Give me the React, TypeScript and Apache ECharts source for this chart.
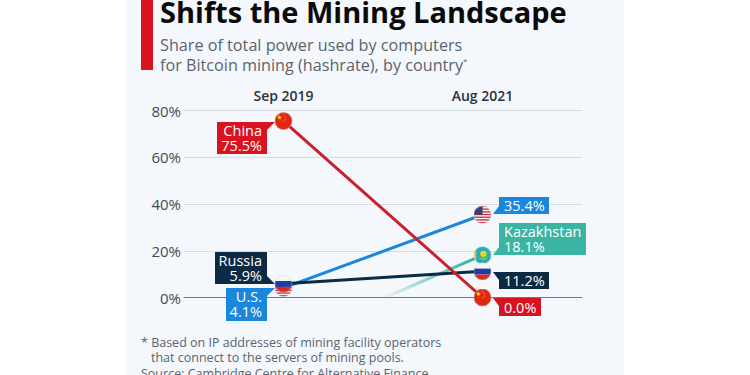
import React, { useEffect, useRef } from "react";
import * as echarts from "echarts";

const periods = ["Sep 2019", "Aug 2021"];
const chinaValues = [75.5, 0.0];
const usValues = [4.1, 35.4];
const russiaValues = [5.9, 11.2];
const kazakhstanFadeStart = [0.51, 0];
const kazakhstanEnd = [1, 18.1];
const yTicks = { min: 0, max: 80, interval: 20 };

const FONT = '"Open Sans", sans-serif';
const RED = "#d8121f";
const BLUE = "#1a86dc";
const NAVY = "#0d2a45";
const TEAL = "#3bb4a4";

const wrap = (inner: string) =>
  "image://data:image/svg+xml," +
  encodeURIComponent(
    `<svg xmlns="http://www.w3.org/2000/svg" width="40" height="40" viewBox="0 0 40 40"><defs><clipPath id="c"><circle cx="20" cy="20" r="19.5"/></clipPath></defs><g clip-path="url(#c)">${inner}</g><circle cx="20" cy="20" r="19" fill="none" stroke="#cfd4da" stroke-width="1"/></svg>`
  );

const star = (x: number, y: number, r: number) => {
  const pts: string[] = [];
  for (let i = 0; i < 10; i++) {
    const a = -Math.PI / 2 + (i * Math.PI) / 5;
    const rr = i % 2 ? r * 0.4 : r;
    pts.push(`${x + rr * Math.cos(a)},${y + rr * Math.sin(a)}`);
  }
  return `<polygon points="${pts.join(" ")}" fill="#ffde00"/>`;
};

const chinaFlag = wrap(
  `<rect width="40" height="40" fill="#de2910"/>${star(11, 12, 6)}${star(20, 6, 2)}${star(24, 11, 2)}${star(24, 17, 2)}${star(20, 21, 2)}`
);
const russiaFlag = wrap(
  `<rect width="40" height="14" fill="#f6f6f6"/><rect y="14" width="40" height="13" fill="#1f3fa8"/><rect y="27" width="40" height="13" fill="#d62b2b"/>`
);
const stripes = Array.from({ length: 7 })
  .map((_, i) => `<rect y="${i * 6}" width="40" height="3" fill="#c8333f"/>`)
  .join("");
const usFlag = wrap(
  `<rect width="40" height="40" fill="#f4f4f4"/>${stripes}<rect width="20" height="20" fill="#3c3b6e"/>`
);
const kazakhstanFlag = wrap(
  `<rect width="40" height="40" fill="#1fb0bf"/><rect x="1" width="5" height="40" fill="#e6c62b"/><circle cx="22" cy="17" r="7" fill="#f2d21f"/><path d="M11 25 Q22 34 33 25 Q22 30 11 25Z" fill="#f2d21f"/>`
);

type Callout = {
  lines: string[];
  x: number;
  y: number;
  color: string;
  side: "l" | "r";
  corner: "top" | "bottom";
  anchor: [number, number];
  dx: number;
  dy: number;
  w: number;
  h: number;
};

const callouts: Callout[] = [
  { lines: ["China", "75.5%"], x: 0, y: 75.5, color: RED, side: "l", corner: "top", anchor: [0, chinaValues[0]], dx: -67, dy: 0.5, w: 50, h: 32 },
  { lines: ["Russia", "5.9%"], x: 0, y: 5.9, color: NAVY, side: "l", corner: "bottom", anchor: [0, russiaValues[0]], dx: -69, dy: -32, w: 52, h: 32 },
  { lines: ["U.S.", "4.1%"], x: 0, y: 4.1, color: BLUE, side: "l", corner: "top", anchor: [0, usValues[0]], dx: -58, dy: 0, w: 41, h: 33 },
  { lines: ["35.4%"], x: 1, y: 35.4, color: BLUE, side: "r", corner: "bottom", anchor: [1, usValues[1]], dx: 16.5, dy: -17.5, w: 50, h: 17 },
  { lines: ["Kazakhstan", "18.1%"], x: 1, y: 18.1, color: TEAL, side: "r", corner: "bottom", anchor: [1, kazakhstanEnd[1]], dx: 16.5, dy: -32, w: 87, h: 32 },
  { lines: ["11.2%"], x: 1, y: 11.2, color: NAVY, side: "r", corner: "top", anchor: [1, russiaValues[1]], dx: 16.5, dy: 1, w: 50, h: 17 },
  { lines: ["0.0%"], x: 1, y: 0, color: RED, side: "r", corner: "top", anchor: [1, chinaValues[1]], dx: 16.5, dy: 0, w: 42, h: 18 },
];

const renderCallout = (params: any, api: any) => {
  const c = callouts[params.dataIndex];
  const p = api.coord(c.anchor);
  const x = Math.round(p[0] + c.dx);
  const y = Math.round(p[1] + c.dy);
  const edge = c.side === "l" ? x + c.w : x;
  const tip = c.side === "l" ? edge + 8 : edge - 6;
  const cy = c.corner === "top" ? y : y + c.h;
  const inner = c.corner === "top" ? cy + 8 : cy - 8;
  const children: any[] = [
    { type: "rect", shape: { x, y, width: c.w, height: c.h }, style: { fill: c.color } },
    { type: "polygon", shape: { points: [[edge, cy], [tip, cy], [edge, inner]] }, style: { fill: c.color } },
  ];
  const single = c.lines.length === 1;
  c.lines.forEach((t, i) => {
    children.push({
      type: "text",
      style: {
        text: t,
        x: c.side === "l" ? x + c.w - 5 : x + 5,
        y: single ? y + c.h / 2 : y + 8 + i * 15,
        fill: "#ffffff",
        font: `${i === c.lines.length - 1 ? 500 : 400} 14.5px ${FONT}`,
        align: c.side === "l" ? "right" : "left",
        verticalAlign: "middle",
      },
    });
  });
  return { type: "group", children };
};

const text = (t: string, x: number, y: number, font: string, fill: string) => ({
  type: "text",
  z: 10,
  style: { text: t, x, y, font, fill, align: "left", verticalAlign: "middle" },
});

export default function App() {
  const ref = useRef<HTMLDivElement>(null);
  useEffect(() => {
    const chart = echarts.init(ref.current!, undefined, { renderer: "svg" });
    const lineBase = { type: "line" as const, symbolSize: 18, showSymbol: true, silent: true };
    chart.setOption({
      animation: false,
      backgroundColor: "#ffffff",
      grid: { left: 184, top: 110.5, width: 398, height: 187 },
      xAxis: [
        {
          type: "category",
          data: periods,
          position: "top",
          boundaryGap: true,
          axisLine: { show: false },
          axisTick: { show: false },
          axisLabel: { margin: 8, fontFamily: FONT, fontSize: 14, fontWeight: 600, color: "#2d333a" },
        },
        {
          type: "value",
          min: -0.5,
          max: 1.5,
          position: "bottom",
          axisLine: { show: true, onZero: false, lineStyle: { color: "#70787f", width: 1 } },
          axisTick: { show: false },
          axisLabel: { show: false },
          splitLine: { show: false },
        },
      ],
      yAxis: {
        type: "value",
        ...yTicks,
        axisLine: { show: false },
        axisTick: { show: false },
        axisLabel: { margin: 3, formatter: "{value}%", fontFamily: FONT, fontSize: 15, color: "#444b52" },
        splitLine: { lineStyle: { color: "#d6dbe1", width: 1 } },
      },
      graphic: [
        { type: "rect", z: -10, shape: { x: 126, y: 0, width: 498, height: 375 }, style: { fill: "#f4f7fb" } },
        { type: "rect", z: 10, shape: { x: 141, y: 0, width: 12, height: 70 }, style: { fill: "#d8121f" } },
        text("Shifts the Mining Landscape", 160, 11, `700 29px ${FONT}`, "#0a0a0a"),
        text("Share of total power used by computers", 160, 45, `400 16.2px ${FONT}`, "#5b646c"),
        text("for Bitcoin mining (hashrate), by country", 160, 65, `400 16.2px ${FONT}`, "#5b646c"),
        text("*", 463, 60, `400 8px ${FONT}`, "#5b646c"),
        text("* Based on IP addresses of mining facility operators", 141, 342, `400 12.5px ${FONT}`, "#5b646c"),
        text("that connect to the servers of mining pools.", 151, 357, `400 12.5px ${FONT}`, "#5b646c"),
        text("Source: Cambridge Centre for Alternative Finance", 141, 373, `400 12.5px ${FONT}`, "#5b646c"),
      ],
      series: [
        {
          ...lineBase,
          name: "Kazakhstan",
          xAxisIndex: 1,
          data: [
            { value: kazakhstanFadeStart, symbol: "none" },
            { value: kazakhstanEnd, symbol: kazakhstanFlag },
          ],
          lineStyle: {
            width: 3,
            color: new echarts.graphic.LinearGradient(0, 0, 1, 0, [
              { offset: 0, color: "rgba(59,180,164,0.05)" },
              { offset: 0.85, color: "rgba(59,180,164,1)" },
              { offset: 1, color: "rgba(59,180,164,1)" },
            ]),
          },
        },
        {
          ...lineBase,
          name: "U.S.",
          data: usValues.map((v) => ({ value: v, symbol: usFlag })),
          lineStyle: { width: 3, color: BLUE },
        },
        {
          ...lineBase,
          name: "Russia",
          data: russiaValues.map((v) => ({ value: v, symbol: russiaFlag })),
          lineStyle: { width: 3, color: NAVY },
        },
        {
          ...lineBase,
          name: "China",
          data: chinaValues.map((v) => ({ value: v, symbol: chinaFlag })),
          lineStyle: { width: 3, color: "#c9202c" },
        },
        {
          type: "custom",
          name: "Callouts",
          silent: true,
          clip: false,
          z: 5,
          data: callouts.map((c) => [c.x, c.y]),
          renderItem: renderCallout,
        },
      ],
    });
    return () => chart.dispose();
  }, []);
  return <div ref={ref} style={{ position: "absolute", left: 0, top: 0, width: 750, height: 375 }} />;
}
